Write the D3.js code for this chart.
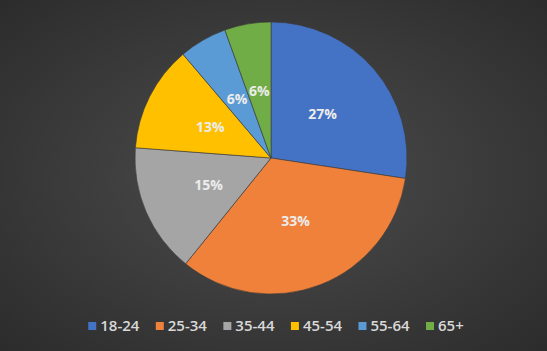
<!DOCTYPE html>
<html lang="en">
<head>
<meta charset="utf-8">
<title>Age groups</title>
<style>
  html, body { margin: 0; padding: 0; background: #3a3a3a; }
  svg { display: block; }
  .slice-label { font-family: "Open Sans", sans-serif; font-weight: 700; font-size: 14px; fill: #ececec; }
  .legend-text { font-family: "Open Sans", sans-serif; font-weight: 600; font-size: 15px; fill: #d9d9d9; }
</style>
</head>
<body>
<script src="https://cdnjs.cloudflare.com/ajax/libs/d3/7.8.5/d3.min.js"></script>
<script>
  const width = 547, height = 351;

  // data
  const ageGroups = ["18-24", "25-34", "35-44", "45-54", "55-64", "65+"];
  const shares = [27.4, 33.4, 15.4, 12.6, 5.7, 5.5];
  const sliceColors = ["#4472c4", "#f0813b", "#a5a5a5", "#ffc000", "#5b9bd5", "#70ad47"];

  const cx = 271, cy = 158, radius = 136;

  const svg = d3.select("body").append("svg")
      .attr("width", width)
      .attr("height", height);

  // background
  const defs = svg.append("defs");
  const bg = defs.append("radialGradient")
      .attr("id", "bg")
      .attr("cx", "50%").attr("cy", "50%").attr("r", "70%");
  bg.append("stop").attr("offset", "0%").attr("stop-color", "#4d4d4d");
  bg.append("stop").attr("offset", "100%").attr("stop-color", "#2c2c2c");

  svg.append("rect")
      .attr("width", width)
      .attr("height", height)
      .attr("fill", "url(#bg)");

  const data = ageGroups.map((g, i) => ({ group: g, value: shares[i] }));
  const total = d3.sum(shares);

  const color = d3.scaleOrdinal().domain(ageGroups).range(sliceColors);

  const pie = d3.pie().value(d => d.value).sort(null);
  const arc = d3.arc().innerRadius(0).outerRadius(radius);
  const labelArc = d3.arc().innerRadius(radius * 0.5).outerRadius(radius * 0.5);

  const g = svg.append("g").attr("transform", `translate(${cx},${cy})`);

  const arcs = pie(data);

  g.selectAll("path")
      .data(arcs)
      .enter()
      .append("path")
      .attr("d", arc)
      .attr("fill", d => color(d.data.group))
      .attr("stroke", "#3a3a3a")
      .attr("stroke-width", 0.6);

  g.selectAll("text")
      .data(arcs)
      .enter()
      .append("text")
      .attr("class", "slice-label")
      .attr("transform", d => `translate(${labelArc.centroid(d)})`)
      .attr("text-anchor", "middle")
      .attr("dy", "0.35em")
      .text(d => Math.round(d.data.value / total * 100) + "%");

  // legend
  const legend = svg.append("g");
  const items = legend.selectAll("g")
      .data(ageGroups)
      .enter()
      .append("g");

  items.append("rect")
      .attr("y", -4)
      .attr("width", 8)
      .attr("height", 8)
      .attr("fill", d => color(d));

  items.append("text")
      .attr("class", "legend-text")
      .attr("x", 12)
      .attr("dy", "0.35em")
      .text(d => d);

  let x = 0;
  items.each(function () {
    const w = this.getBBox().width;
    d3.select(this).attr("transform", `translate(${x},0)`);
    x += w + 16;
  });
  const legendWidth = x - 16;
  legend.attr("transform", `translate(${276 - legendWidth / 2},326)`);
</script>
</body>
</html>
